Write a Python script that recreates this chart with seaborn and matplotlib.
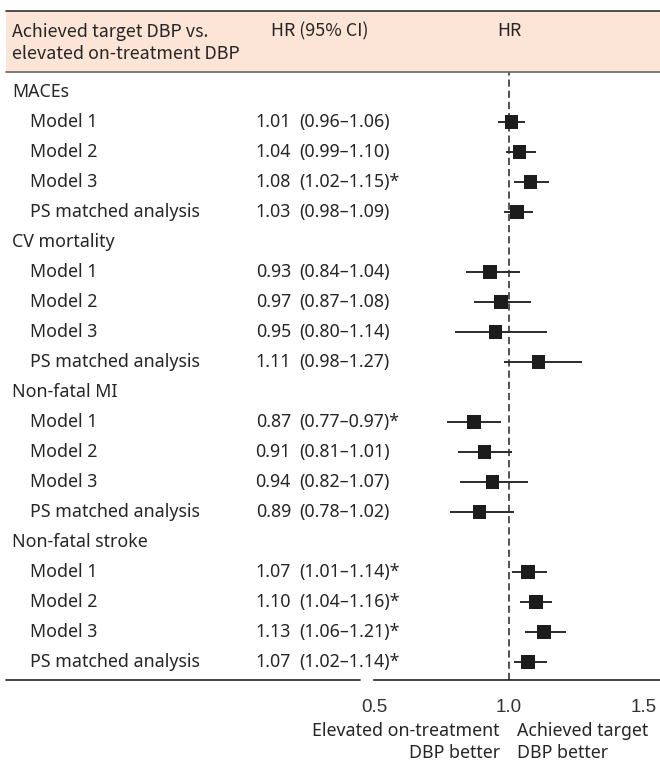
import matplotlib
matplotlib.use("Agg")
import matplotlib.pyplot as plt
import matplotlib.transforms as mtransforms
from matplotlib.patches import Rectangle
from matplotlib.lines import Line2D
import seaborn as sns
import pandas as pd

# ---------------- data ----------------
groups = ["MACEs", "CV mortality", "Non-fatal MI", "Non-fatal stroke"]
models = ["Model 1", "Model 2", "Model 3", "PS matched analysis"]

hr_maces = [1.01, 1.04, 1.08, 1.03]
lo_maces = [0.96, 0.99, 1.02, 0.98]
hi_maces = [1.06, 1.10, 1.15, 1.09]
sig_maces = [False, False, True, False]

hr_cv = [0.93, 0.97, 0.95, 1.11]
lo_cv = [0.84, 0.87, 0.80, 0.98]
hi_cv = [1.04, 1.08, 1.14, 1.27]
sig_cv = [False, False, False, False]

hr_mi = [0.87, 0.91, 0.94, 0.89]
lo_mi = [0.77, 0.81, 0.82, 0.78]
hi_mi = [0.97, 1.01, 1.07, 1.02]
sig_mi = [True, False, False, False]

hr_stroke = [1.07, 1.10, 1.13, 1.07]
lo_stroke = [1.01, 1.04, 1.06, 1.02]
hi_stroke = [1.14, 1.16, 1.21, 1.14]
sig_stroke = [True, True, True, True]

x_ticks = [0.5, 1.0, 1.5]
x_ticklabels = ["0.5", "1.0", "1.5"]

header_left = "Achieved target DBP vs.\nelevated on-treatment DBP"
header_mid = "HR (95% CI)"
header_right = "HR"
label_left = "Elevated on-treatment\nDBP better"
label_right = "Achieved target\nDBP better"

# ---------------- build table ----------------
rows = []
series = [(hr_maces, lo_maces, hi_maces, sig_maces),
          (hr_cv, lo_cv, hi_cv, sig_cv),
          (hr_mi, lo_mi, hi_mi, sig_mi),
          (hr_stroke, lo_stroke, hi_stroke, sig_stroke)]
r = 0
group_rows = []
for g, (hr, lo, hi, sg) in zip(groups, series):
    group_rows.append((g, r))
    r += 1
    for m, h, l, u, s in zip(models, hr, lo, hi, sg):
        rows.append(dict(group=g, model=m, hr=h, lo=l, hi=u, sig=s, row=r))
        r += 1
df = pd.DataFrame(rows)

# ---------------- figure ----------------
W, H = 660, 761
fig = plt.figure(figsize=(W / 100, H / 100), dpi=100)
sns.set_style("white")
plt.rcParams["font.family"] = ["Noto Sans", "DejaVu Sans"]

BODY = ["Noto Sans", "DejaVu Sans"]
HEAD = ["Noto Sans CJK KR", "DejaVu Sans"]
TXT = "#262626"
ROW0 = 92      # px of first row centre
STEP = 30      # px per row
AX_TOP = 72
AX_BOT = 680
AX_LEFT = 374
PX_PER_UNIT = 270

ax = fig.add_axes([AX_LEFT / W, 1 - AX_BOT / H, 1 - AX_LEFT / W, (AX_BOT - AX_TOP) / H])
ax.set_xlim(0.5, 0.5 + (W - AX_LEFT) / PX_PER_UNIT)
ax.set_ylim((AX_BOT - ROW0) / STEP, (AX_TOP - ROW0) / STEP)

# reference line
ax.axvline(1.0, color="#444444", lw=1.3, ls=(0, (4, 2.2)), zorder=1)
# CIs
ax.hlines(df["row"], df["lo"], df["hi"], color="#2b2b2b", lw=1.4, zorder=2)
# squares
sns.scatterplot(data=df, x="hr", y="row", marker="s", s=92, color="#1c1c1c",
                edgecolor="none", linewidth=0, ax=ax, zorder=3, legend=False)

for sp in ["top", "right", "left"]:
    ax.spines[sp].set_visible(False)
ax.spines["bottom"].set_color("#222222")
ax.spines["bottom"].set_linewidth(1.2)
ax.set_yticks([])
ax.set_xticks(x_ticks)
ax.set_xticklabels(x_ticklabels, fontsize=13.5, color="#333333", family="Liberation Sans")
ax.tick_params(axis="x", direction="out", length=5.5, width=1.2, color="#222222", pad=8)
ax.set_xlabel("")
ax.set_ylabel("")
ax.patch.set_alpha(0)

# text transform: x in figure pixels (fraction), y in data rows
trans = mtransforms.blended_transform_factory(fig.transFigure, ax.transData)
FS = 12.8

for g, gr in group_rows:
    ax.text(12 / W, gr, g, transform=trans, ha="left", va="center", fontsize=FS,
            color=TXT, clip_on=False, family=BODY)
for _, rw in df.iterrows():
    ax.text(30 / W, rw["row"], rw["model"], transform=trans, ha="left", va="center",
            fontsize=FS, color=TXT, clip_on=False, family=BODY)
    ax.text(291 / W, rw["row"], f"{rw['hr']:.2f}", transform=trans, ha="right",
            va="center", fontsize=FS, color=TXT, clip_on=False, family=BODY)
    ci = f"({rw['lo']:.2f}–{rw['hi']:.2f})" + ("*" if rw["sig"] else "")
    ax.text(299 / W, rw["row"], ci, transform=trans, ha="left", va="center",
            fontsize=FS, color=TXT, clip_on=False, family=BODY)

# header band
fig.add_artist(Rectangle((6 / W, 1 - 72 / H), 1 - 6 / W, 61 / H, transform=fig.transFigure,
                         facecolor="#fce4d6", edgecolor="none", zorder=0))
fig.add_artist(Line2D([6 / W, 1], [1 - 11 / H] * 2, transform=fig.transFigure,
                      color="#333333", lw=1.2))
fig.add_artist(Line2D([6 / W, 1], [1 - 72 / H] * 2, transform=fig.transFigure,
                      color="#666666", lw=1.2))
# bottom left rule
fig.add_artist(Line2D([6 / W, 360 / W], [1 - AX_BOT / H] * 2, transform=fig.transFigure,
                      color="#222222", lw=1.2))

HFS = 12.9
fig.text(12 / W, 1 - 43 / H, header_left, ha="left", va="center", fontsize=HFS,
         color=TXT, linespacing=1.35, family=HEAD)
fig.text(271 / W, 1 - 31 / H, header_mid, ha="left", va="center", fontsize=HFS,
         color=TXT, family=HEAD)
fig.text(497 / W, 1 - 31 / H, header_right, ha="left", va="center", fontsize=HFS,
         color=TXT, family=HEAD)

# direction labels
fig.text(500 / W, 1 - 742 / H, label_left, ha="right", va="center", fontsize=FS,
         color=TXT, linespacing=1.3, multialignment="right", family=BODY)
fig.text(517 / W, 1 - 742 / H, label_right, ha="left", va="center", fontsize=FS,
         color=TXT, linespacing=1.3, multialignment="left", family=BODY)

fig.savefig("out.png", dpi=100)
